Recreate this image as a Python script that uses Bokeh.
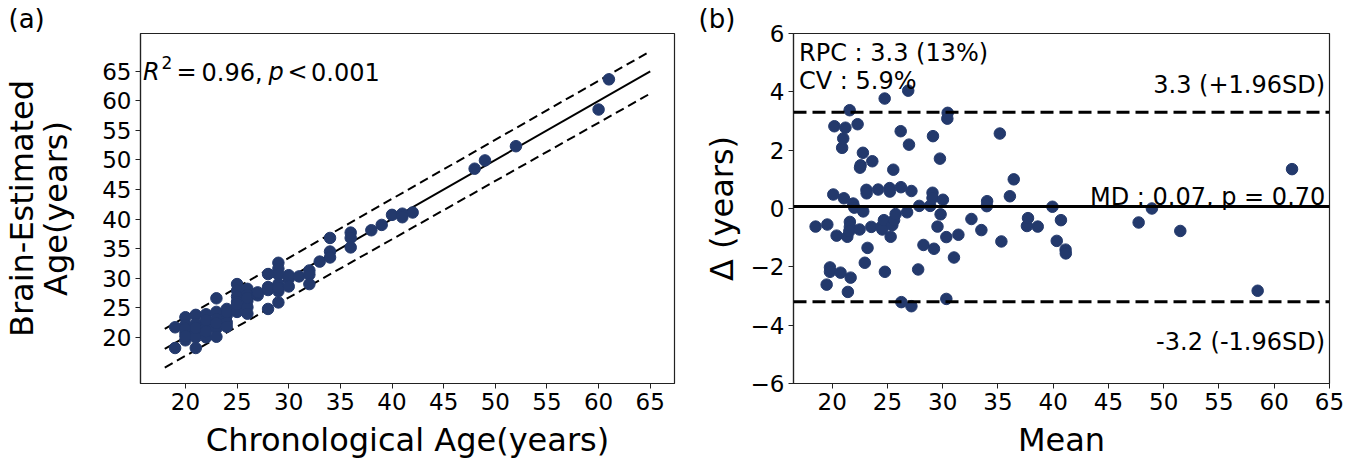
from bokeh.plotting import figure
from bokeh.layouts import row
from bokeh.models import ColumnDataSource, Span, FixedTicker, Title
from bokeh.embed import file_html
from bokeh.resources import INLINE
from bokeh.core.properties import value

# ---------------- data: panel (a) ----------------
chrono_age = [19, 19,
              20, 20, 20, 20, 20, 20,
              21, 21, 21, 21, 21, 21,
              22, 22, 22, 22, 22, 22,
              23, 23, 23, 23, 23, 23,
              24, 24, 24, 24, 24,
              25, 25, 25, 25, 25, 25, 25,
              26, 26, 26, 26, 26, 26,
              27, 27,
              28, 28, 28, 28,
              29, 29, 29, 29, 29, 29, 29,
              30, 30, 30,
              31,
              32, 32, 32,
              33,
              34, 34, 34,
              36, 36, 36,
              38, 39, 40, 41, 41, 42, 48, 49, 52, 60, 61]
brain_age = [21.7, 18.2,
             23.4, 22.1, 20.8, 19.5, 21.5, 20.2,
             23.8, 22.3, 21.1, 20.0, 18.2, 21.6,
             23.9, 22.5, 21.4, 20.0, 22.9, 21.0,
             26.6, 24.3, 23.1, 21.5, 20.1, 22.4,
             24.8, 23.7, 22.5, 21.8, 24.3,
             29.0, 27.9, 26.9, 26.0, 25.1, 24.3, 25.6,
             28.2, 27.2, 26.2, 25.1, 24.0, 26.7,
             27.1, 27.6,
             30.7, 28.5, 24.8, 28.0,
             32.6, 31.6, 30.6, 29.0, 25.9, 27.8, 28.4,
             29.9, 28.6, 30.5,
             30.3,
             31.3, 30.6, 29.0,
             32.8,
             36.8, 34.5, 33.5,
             37.7, 36.8, 35.2,
             38.1, 39.0, 40.7, 40.9, 40.3, 41.1, 48.5, 49.9, 52.3, 58.5, 63.6]
fit_x = [18.0, 65.0]
fit_y = [18.05, 64.95]
upper_y = [21.45, 68.35]
lower_y = [14.9, 61.2]
r2_value = "0.96"
p_text = "0.001"
ticks_a = [20, 25, 30, 35, 40, 45, 50, 55, 60, 65]

# ---------------- data: panel (b) ----------------
ba_mean = [18.5, 19.56, 19.5, 19.8, 19.8, 20.1, 20.2, 20.4, 20.76, 20.9,
           21.0, 21.2, 21.06, 21.42, 21.37, 21.6, 21.6, 21.55, 21.58, 21.67,
           21.9, 22.0, 22.3, 22.48, 22.57, 22.52, 22.78, 22.81, 22.95, 23.1,
           23.12, 23.2, 23.63, 23.54, 24.16, 24.75, 24.77, 24.45, 24.54, 24.68,
           25.2, 25.22, 25.29, 25.53, 25.44, 25.6, 25.74, 26.2, 26.22, 26.26,
           26.78, 26.88, 26.95, 27.17, 27.17, 27.78, 27.88, 28.26, 28.87, 29.08,
           29.08, 29.12, 29.21, 29.53, 29.75, 29.81, 30.02, 30.45, 30.42, 30.33,
           30.33, 31.02, 31.42, 32.6, 33.5, 34.02, 33.99, 35.17, 35.31, 36.08,
           36.43, 37.62, 37.72, 38.6, 39.93, 40.32, 40.7, 41.12, 41.14, 47.73,
           48.93, 51.5, 58.5, 61.61]
ba_diff = [-0.62, -0.55, -2.61, -2.02, -2.17, 0.48, 2.82, -0.93, -2.2, 2.08,
           2.40, 2.77, 0.35, -2.86, -0.97, -0.46, -0.63, -0.78, 3.37, -2.37,
           0.17, 0.03, 2.89, -0.72, 1.48, 1.40, 1.91, -0.1, -1.86, 0.64,
           0.52, -1.35, 1.62, -0.63, 0.65, 3.77, -2.17, -0.63, -0.72, -0.4,
           0.7, 0.58, -0.97, 1.33, -0.57, -0.4, -0.19, 2.65, 0.73, -3.21,
           -0.13, 4.04, 2.19, 0.6, -3.35, -2.09, 0.09, -1.25, 0.09, 0.54,
           0.36, 2.48, -1.38, -0.62, 1.71, -0.2, 0.3, 3.28, 3.08, -0.98,
           -3.1, -1.68, -0.9, -0.36, -0.74, 0.25, 0.08, 2.57, -1.13, 0.42,
           1.0, -0.6, -0.33, -0.62, 0.06, -1.11, -0.4, -1.41, -1.54, -0.48,
           0.0, -0.77, -2.82, 1.35]
md_value = 0.07
md_p = "0.70"
loa_upper = 3.3
loa_lower = -3.2
rpc_value = 3.3
rpc_pct = 13
cv_pct = 5.9
ticks_bx = [20, 25, 30, 35, 40, 45, 50, 55, 60, 65]
ticks_by = [-6, -4, -2, 0, 2, 4, 6]

FONT = "DejaVu Sans"
DOT = "#23396c"


def style(p, label_standoff_y, label_standoff_x):
    p.xgrid.visible = False
    p.ygrid.visible = False
    p.outline_line_color = "#222222"
    p.outline_line_width = 1.2
    p.background_fill_color = "white"
    p.border_fill_color = "white"
    for ax in p.axis:
        ax.axis_line_color = "#222222"
        ax.axis_line_width = 1.2
        ax.major_tick_out = 5
        ax.major_tick_in = 0
        ax.major_tick_line_color = "#222222"
        ax.minor_tick_out = 0
        ax.minor_tick_in = 0
        ax.major_label_text_font = FONT
        ax.major_label_text_font_size = "23px"
        ax.major_label_text_color = "black"
        ax.major_label_standoff = 4
        ax.axis_label_text_font = FONT
        ax.axis_label_text_font_size = "32px"
        ax.axis_label_text_font_style = "normal"
        ax.axis_label_text_color = "black"
    p.yaxis.axis_label_text_line_height = 0.9
    p.yaxis.axis_label_standoff = label_standoff_y
    p.xaxis.axis_label_standoff = label_standoff_x


def panel_title(p, text, offset):
    t = Title(text=text, align="left", offset=offset, standoff=0,
              text_font=FONT, text_font_size="26px", text_font_style="normal",
              text_color="black")
    p.add_layout(t, "above")


# ---------------- panel (a) ----------------
pa = figure(width=690, height=462, x_range=(15.65, 67.35), y_range=(12.2, 71.35),
            output_backend="svg", toolbar_location=None,
            min_border_left=138, min_border_right=16, min_border_top=33, min_border_bottom=79)
pa.xaxis.axis_label = "Chronological Age(years)"
pa.yaxis.axis_label = "Brain-Estimated\nAge(years)"
pa.xaxis.ticker = FixedTicker(ticks=ticks_a)
pa.yaxis.ticker = FixedTicker(ticks=ticks_a)
style(pa, 24, 8)
panel_title(pa, "(a)", -132)

pa.line(fit_x, upper_y, line_color="black", line_width=2, line_dash="9 5")
pa.line(fit_x, lower_y, line_color="black", line_width=2, line_dash="9 5")
pa.line(fit_x, fit_y, line_color="black", line_width=2)
pa.scatter(chrono_age, brain_age, size=11.5, fill_color=DOT, line_color=DOT)

r2_src = ColumnDataSource(dict(
    x=[15.65] * 7,
    y=[64.83, 66.52, 64.83, 64.83, 64.83, 64.83, 64.83],
    dx=[2.5, 21.0, 36.0, 61.0, 128.0, 147.0, 170.5],
    text=["R", "2", "=", r2_value + ",", "p", "<", p_text],
    style=["italic", "normal", "normal", "normal", "italic", "normal", "normal"],
    size=["24px", "17px", "24px", "24px", "24px", "24px", "24px"],
))
pa.text(x="x", y="y", text="text", x_offset="dx", source=r2_src, text_font=value(FONT),
        text_font_size="size", text_font_style="style", text_color="black",
        text_baseline="alphabetic", text_align="left")

# ---------------- panel (b) ----------------
pb = figure(width=672, height=462, x_range=(16.5, 65.0), y_range=(-6, 6),
            output_backend="svg", toolbar_location=None,
            min_border_left=103, min_border_right=33, min_border_top=33, min_border_bottom=79)
pb.xaxis.axis_label = "Mean"
pb.yaxis.axis_label = "\u0394 (years)"
pb.xaxis.ticker = FixedTicker(ticks=ticks_bx)
pb.yaxis.ticker = FixedTicker(ticks=ticks_by)
pb.yaxis.major_label_overrides = {t: ("\u2212" + str(abs(t)) if t < 0 else str(t)) for t in ticks_by}
style(pb, 7, 8)
panel_title(pb, "(b)", -95)

pb.add_layout(Span(location=md_value, dimension="width", line_color="black", line_width=3))
pb.add_layout(Span(location=loa_upper, dimension="width", line_color="black", line_width=3,
                   line_dash="13 6"))
pb.add_layout(Span(location=loa_lower, dimension="width", line_color="black", line_width=3,
                   line_dash="13 6"))
pb.scatter(ba_mean, ba_diff, size=11.5, fill_color=DOT, line_color=DOT)

left_src = ColumnDataSource(dict(
    x=[17.0, 17.0],
    y=[5.33, 4.36],
    text=[f"RPC : {rpc_value} ({rpc_pct}%)", f"CV : {cv_pct}%"],
))
pb.text(x="x", y="y", text="text", source=left_src, text_font=value(FONT),
        text_font_size="24px", text_color="black", text_baseline="alphabetic", text_align="left")
right_src = ColumnDataSource(dict(
    x=[64.6, 64.62, 64.6],
    y=[4.23, 0.40, -4.57],
    text=[f"{loa_upper} (+1.96SD)", f"MD : {md_value}, p = {md_p}", f"{loa_lower} (-1.96SD)"],
))
pb.text(x="x", y="y", text="text", source=right_src, text_font=value(FONT),
        text_font_size="24px", text_color="black", text_baseline="alphabetic", text_align="right")

layout = row(pa, pb)
open("out.html", "w").write(file_html(layout, INLINE))
